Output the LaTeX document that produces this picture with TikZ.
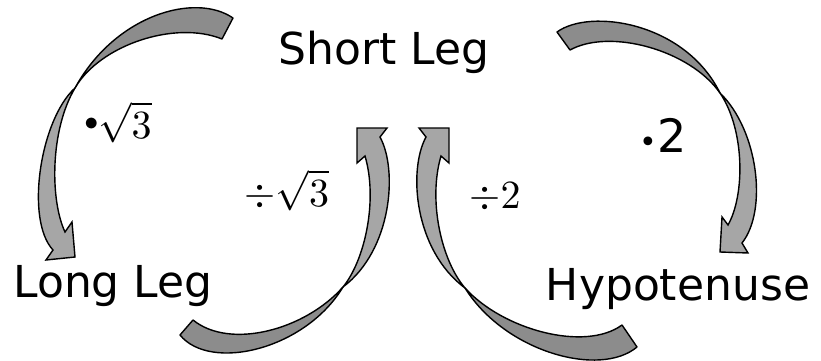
\documentclass[tikz,border=0pt]{standalone}
\usepackage{fontspec}
\setmainfont{DejaVu Sans}
\definecolor{arrowdark}{RGB}{140,140,140}
\definecolor{arrowlight}{RGB}{166,166,166}
\tikzset{
  darkband/.style={fill=arrowdark, draw=black, line width=1.4pt, line join=round},
  lightband/.style={fill=arrowlight, draw=black, line width=1.4pt, line join=miter},
  lbl/.style={anchor=base, inner sep=0pt, font=\fontsize{44}{50}\selectfont},
  mlbl/.style={anchor=base, inner sep=0pt}
}
\newcommand{\bigmath}[1]{\scalebox{4}{$#1$}}
\newcommand{\smalldot}{\raisebox{0.35ex}{\scalebox{0.7}{$\bullet$}}}
\begin{document}
\begin{tikzpicture}[x=1pt,y=-1pt]
\useasboundingbox[fill=white] (0,0) rectangle (821,361);

% arrow 1 : Short Leg -> Long Leg
\draw[darkband] (233,18) .. controls (195,-8) and (115,15) .. (75,88)
  .. controls (100,45) and (175,20) .. (222,39) -- cycle;
\draw[lightband] (75,88) .. controls (40,120) and (25,220) .. (53,250)
  -- (46,260) -- (75,257) -- (72,222) -- (65,232)
  .. controls (50,200) and (50,130) .. (75,88) -- cycle;

% arrow 2 : Long Leg -> Short Leg
\draw[darkband] (180,335) .. controls (210,372) and (305,350) .. (343,287)
  .. controls (305,330) and (230,350) .. (193,320) -- cycle;
\draw[lightband] (343,287) .. controls (365,260) and (378,200) .. (365,156)
  -- (357,163) -- (357,128) -- (387,128) -- (380,137)
  .. controls (398,170) and (392,250) .. (343,287) -- cycle;

% arrow 3 : Hypotenuse -> Short Leg
\draw[darkband] (637,347) .. controls (600,378) and (505,352) .. (465,288)
  .. controls (503,330) and (585,352) .. (622,325) -- cycle;
\draw[lightband] (465,288) .. controls (441,260) and (428,200) .. (441,156)
  -- (449,163) -- (449,128) -- (419,128) -- (426,137)
  .. controls (408,170) and (414,250) .. (465,288) -- cycle;

% arrow 4 : Short Leg -> Hypotenuse
\draw[darkband] (557,32) .. controls (590,8) and (685,22) .. (720,93)
  .. controls (690,50) and (610,28) .. (570,50) -- cycle;
\draw[lightband] (720,93) .. controls (758,130) and (768,210) .. (742,243)
  -- (748,253) -- (720,252) -- (722,217) -- (728,225)
  .. controls (745,195) and (745,130) .. (720,93) -- cycle;

% texts
\node[lbl] (short) at (384,64) {Short Leg};
\node[lbl] (long) at (113,297) {Long Leg};
\node[lbl] (hyp) at (678,300) {Hypotenuse};
\node[mlbl] (mulroot) at (118,138) {\bigmath{\smalldot\sqrt{3}}};
\node[mlbl] (divroot) at (287,206) {\bigmath{\div\sqrt{3}}};
\node[mlbl] (divtwo) at (495,208) {\bigmath{\div 2}};
\node[lbl, font=\fontsize{46}{50}\selectfont] (multwo) at (663,152) {{\fontsize{30}{30}\selectfont •}2};
\end{tikzpicture}
\end{document}
